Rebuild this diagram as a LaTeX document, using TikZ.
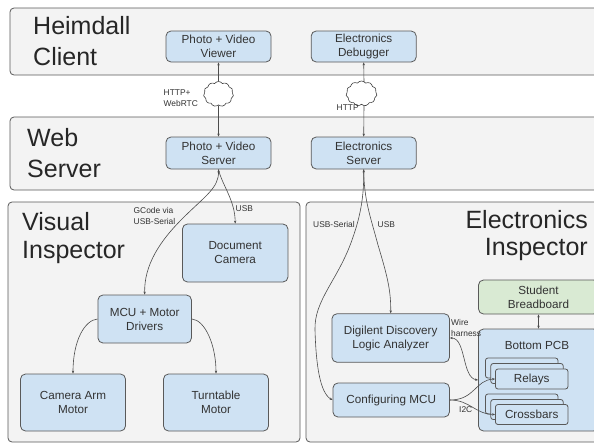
\documentclass[tikz,border=0pt]{standalone}
\usepackage{fontspec}
\setmainfont{Liberation Sans}
\usetikzlibrary{shapes.symbols,arrows.meta}
\definecolor{panelfill}{HTML}{F3F3F3}
\definecolor{boxfill}{HTML}{CFE2F3}
\definecolor{greenfill}{HTML}{D9EAD3}
\definecolor{edgecol}{HTML}{595959}
\definecolor{txt}{HTML}{333333}
\tikzset{
  panel/.style={draw=edgecol,fill=panelfill,line width=0.8pt,rounded corners=4pt},
  blockbox/.style={draw=edgecol,fill=boxfill,line width=0.8pt,rounded corners=5pt,inner sep=0pt,align=center,font=\fontsize{11.7}{14}\selectfont,text=txt},
  greenbox/.style={blockbox,fill=greenfill},
  stackbox/.style={blockbox,rounded corners=2.5pt,minimum width=72.5pt,minimum height=20pt},
  title/.style={font=\fontsize{25}{30}\selectfont,text=black!85,inner sep=0pt,align=left},
  small/.style={font=\fontsize{8.4}{10.3}\selectfont,text=txt,inner sep=0pt,align=left},
  link/.style={draw=black!70,line width=0.6pt,-{Stealth[length=3pt,width=2.4pt]}},
  linkboth/.style={draw=black!70,line width=0.6pt,{Stealth[length=3pt,width=2.4pt]}-{Stealth[length=3pt,width=2.4pt]}},
  netcloud/.style={cloud,cloud puffs=11,cloud puff arc=110,aspect=1.15,draw=black!75,fill=white,line width=0.6pt,inner sep=0pt}
}
\begin{document}
\begin{tikzpicture}[x=1pt,y=-1pt]
\useasboundingbox (0,0) rectangle (594,442);
\begin{scope}
\clip (0,0) rectangle (594,442);
\path[fill=white] (0,0) rectangle (594,442);
% panels
\node[panel,minimum width=594pt,minimum height=67pt,inner sep=0pt] (clientpanel) at (307,41.5) {};
\node[panel,minimum width=594pt,minimum height=73pt,inner sep=0pt] (serverpanel) at (307,153.5) {};
\node[panel,minimum width=292pt,minimum height=240pt,inner sep=0pt] (visualpanel) at (154,322) {};
\node[panel,minimum width=294pt,minimum height=240pt,inner sep=0pt] (elecpanel) at (453,322) {};
% titles
\node[title,anchor=west] (t1) at (33,26) {Heimdall};
\node[title,anchor=west] (t2) at (33,57) {Client};
\node[title,anchor=west] (t3) at (27,138) {Web};
\node[title,anchor=west] (t4) at (27,169) {Server};
\node[title,anchor=west] (t5) at (22,222) {Visual};
\node[title,anchor=west] (t6) at (22,252) {Inspector};
\node[title,anchor=east] (t7) at (588,220) {Electronics};
\node[title,anchor=east] (t8) at (588,249) {Inspector};
% boxes
\node[blockbox,minimum width=105pt,minimum height=31pt] (viewer) at (218.5,46.5) {Photo + Video\\Viewer};
\node[blockbox,minimum width=105pt,minimum height=31pt] (debugger) at (363.7,46.5) {Electronics\\Debugger};
\node[blockbox,minimum width=105pt,minimum height=32pt] (pvserver) at (218.5,153) {Photo + Video\\Server};
\node[blockbox,minimum width=105pt,minimum height=32pt] (eserver) at (363.7,153) {Electronics\\Server};
\node[blockbox,minimum width=105.5pt,minimum height=58pt] (doccam) at (235.2,253) {Document\\Camera};
\node[blockbox,minimum width=93.5pt,minimum height=48pt] (mcu) at (144.7,319) {MCU + Motor\\Drivers};
\node[blockbox,minimum width=105pt,minimum height=57pt] (armmotor) at (73,402.5) {Camera Arm\\Motor};
\node[blockbox,minimum width=105pt,minimum height=57pt] (turntable) at (216,402.5) {Turntable\\Motor};
\node[blockbox,minimum width=117.5pt,minimum height=48.5pt] (digilent) at (390.7,338) {Digilent Discovery\\Logic Analyzer};
\node[blockbox,minimum width=116.5pt,minimum height=34pt] (cfgmcu) at (391.2,400) {Configuring MCU};
\node[greenbox,minimum width=120pt,minimum height=34pt] (breadboard) at (538.5,297) {Student\\Breadboard};
\node[blockbox,minimum width=120pt,minimum height=102pt] (pcb) at (538.5,380) {};
\node[inner sep=0pt,font=\fontsize{11.7}{14}\selectfont,text=txt] (pcblabel) at (537,345.5) {Bottom PCB};
% stacks
\node[stackbox] (r3) at (521.7,368) {};
\node[stackbox] (r2) at (527,373.5) {};
\node[stackbox] (relays) at (531.7,379) {Relays};
\node[stackbox] (c3) at (521.7,404) {};
\node[stackbox] (c2) at (527,409.5) {};
\node[stackbox] (crossbars) at (531.7,414.5) {Crossbars};
% clouds
\node[netcloud,minimum width=30pt,minimum height=25pt] (cloudA) at (218.5,94) {};
\node[netcloud,minimum width=31pt,minimum height=25pt] (cloudB) at (361.5,93.5) {};
% straight links
\coordinate (cbt) at (364,82);
\coordinate (cbb) at (364,105);
\draw[link] (cloudA.north) -- (viewer.south);
\draw[link] (cloudA.south) -- (pvserver.north);
\draw[link] (cbt) -- (debugger.south);
\draw[link] (cbb) -- (eserver.north);
\draw[linkboth] (breadboard.south) -- (pcb.north);
% curved links
\draw[linkboth] (pvserver.south) .. controls (219,188) and (205,196) .. (182,219) .. controls (160,241) and (144,265) .. (mcu.north);
\draw[link] (pvserver.south) .. controls (222,185) and (235,200) .. (doccam.north);
\draw[link] (mcu.west) .. controls (85,320) and (73,340) .. (armmotor.north);
\draw[link] (mcu.east) .. controls (205,320) and (216,345) .. (turntable.north);
\draw[linkboth] (eserver.south) .. controls (364,195) and (361,215) .. (352,240) .. controls (338,280) and (314,300) .. (315,330) .. controls (316,365) and (320,393) .. (cfgmcu.west);
\draw[link] (eserver.south) .. controls (364,200) and (370,215) .. (378,245) .. controls (387,275) and (391,290) .. (digilent.north);
\draw[linkboth] (digilent.east) .. controls (466,338) and (462,378) .. (pcb.west);
\draw[link] (cfgmcu.east) .. controls (475,400) and (475,380) .. (relays.west);
\draw[link] (cfgmcu.east) .. controls (470,400) and (475,414) .. (crossbars.west);
% labels
\node[small,anchor=west] (l1) at (163.5,98) {HTTP+\\WebRTC};
\node[small,anchor=west] (l2) at (336.5,108) {HTTP};
\node[small,anchor=west] (l3) at (133.5,216) {GCode via\\USB-Serial};
\node[small,anchor=west] (l4) at (235.5,209) {USB};
\node[small,anchor=west] (l5) at (313,224.5) {USB-Serial};
\node[small,anchor=west] (l6) at (377.5,224.5) {USB};
\node[small,anchor=west] (l7) at (451,328) {Wire\\harness};
\node[small,anchor=west] (l8) at (459,410) {I2C};
\end{scope}
\end{tikzpicture}
\end{document}
